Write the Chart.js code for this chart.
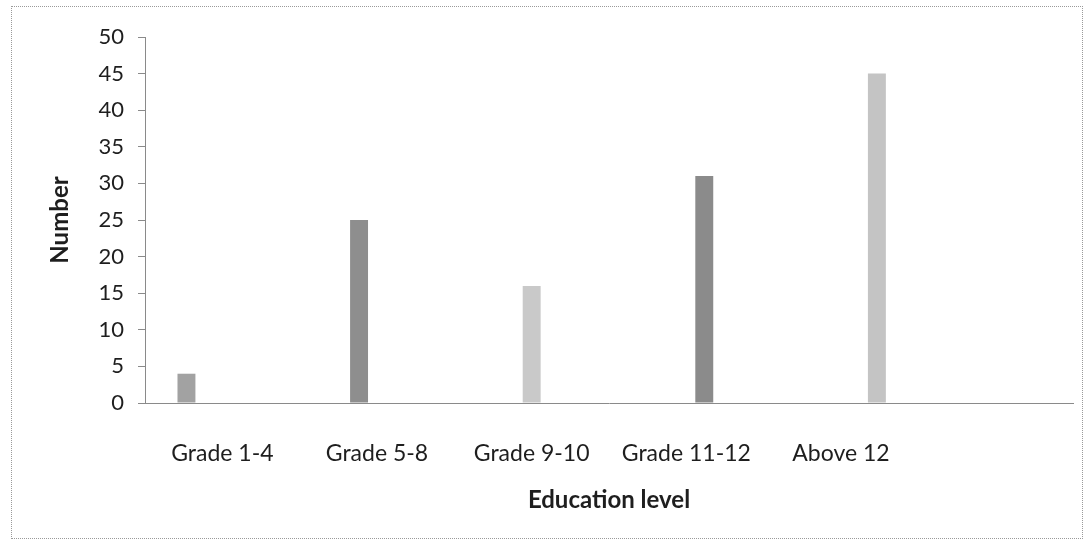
<!DOCTYPE html>
<html>
<head>
<meta charset="utf-8">
<script src="https://cdn.jsdelivr.net/npm/chart.js@4/dist/chart.umd.min.js"></script>
<style>
  html, body { margin: 0; padding: 0; background: #fff; }
  .wrap { position: relative; width: 1085px; height: 544px; }
  .frame {
    position: absolute; left: 11px; top: 6px; width: 1072px; height: 533px;
    border: 1px dotted #9a9a9a; box-sizing: border-box; pointer-events: none;
  }
  canvas { position: absolute; left: 0; top: 0; }
</style>
</head>
<body>
<div class="wrap">
  <div class="frame"></div>
  <canvas id="eduChart" width="1085" height="544"></canvas>
</div>
<script>
// Education level of respondents
const categories = ["Grade 1-4", "Grade 5-8", "Grade 9-10", "Grade 11-12", "Above 12", ""]
const counts = [4, 25, 16, 31, 45]
const barColors = ["#a2a2a2", "#8e8e8e", "#c9c9c9", "#8b8b8b", "#c4c4c4"]
const yTicks = [0, 5, 10, 15, 20, 25, 30, 35, 40, 45, 50]

const FONT = "Lato, 'Open Sans', sans-serif"

// one series per level, each holding its own value in its own slot
const datasets = counts.map((v, i) => ({
  label: categories[i],
  data: categories.map((_, j) => (j === i ? v : null)),
  backgroundColor: barColors[i],
  barPercentage: 1,
  categoryPercentage: 0.58,
}))

new Chart(document.getElementById("eduChart"), {
  type: "bar",
  data: { labels: categories, datasets },
  options: {
    responsive: false,
    animation: false,
    layout: { padding: { left: 42, top: 37, right: 12, bottom: 25 } },
    plugins: { legend: { display: false }, tooltip: { enabled: false } },
    scales: {
      x: {
        grid: { display: false },
        border: { color: "#8a8a8a", width: 1 },
        ticks: { color: "#1e1e1e", font: { family: FONT, size: 23 }, padding: 29, maxRotation: 0 },
        title: {
          display: true,
          text: "Education level",
          color: "#1e1e1e",
          font: { family: FONT, size: 24, weight: "bold" },
          padding: { top: 14 },
        },
        afterFit: (scale) => { scale.height = 116 },
      },
      y: {
        min: 0,
        max: 50,
        afterBuildTicks: (scale) => { scale.ticks = yTicks.map((v) => ({ value: v })) },
        grid: { drawOnChartArea: false, drawTicks: true, tickLength: 7, color: "#8a8a8a" },
        border: { color: "#8a8a8a", width: 1 },
        ticks: { color: "#1e1e1e", font: { family: FONT, size: 22 }, padding: 14 },
        title: {
          display: true,
          text: "Number",
          color: "#1e1e1e",
          font: { family: FONT, size: 24, weight: "bold" },
          padding: { bottom: 10 },
        },
        afterFit: (scale) => { scale.width = 103 },
      },
    },
  },
})
</script>
</body>
</html>
